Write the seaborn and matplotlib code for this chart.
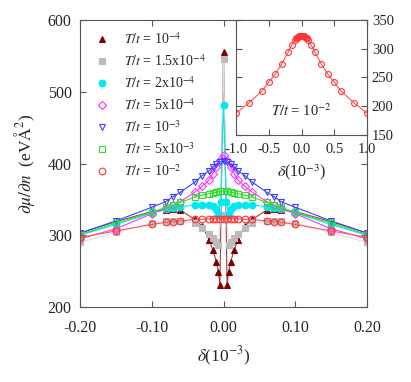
import pandas as pd
import seaborn as sns
import matplotlib.pyplot as plt
from matplotlib.lines import Line2D

# values
x_t1 = [-0.2, -0.15, -0.1, -0.08, -0.07, -0.06, -0.04, -0.03, -0.02, -0.015, -0.01, -0.007, -0.005, 0.0,
        0.005, 0.007, 0.01, 0.015, 0.02, 0.03, 0.04, 0.06, 0.07, 0.08, 0.1, 0.15, 0.2]
y_t1 = [303, 319, 333, 335, 337, 335, 322, 313, 294, 280, 263, 249, 230, 556,
        230, 249, 263, 280, 294, 313, 322, 335, 337, 335, 333, 319, 303]

x_t15 = [-0.2, -0.15, -0.1, -0.08, -0.07, -0.06, -0.04, -0.03, -0.02, -0.015, -0.01, -0.007, -0.004, 0.0,
         0.004, 0.007, 0.01, 0.015, 0.02, 0.03, 0.04, 0.06, 0.07, 0.08, 0.1, 0.15, 0.2]
y_t15 = [290, 304, 317, 320, 320, 320, 317, 310, 302, 296, 290, 287, 328, 545,
         328, 287, 290, 296, 302, 310, 317, 320, 320, 320, 317, 304, 290]

x_t2 = x_t15
y_t2 = [300, 315, 331, 336, 338, 340, 342, 342, 342, 341, 336, 330, 346, 482,
        346, 330, 336, 341, 342, 342, 342, 340, 338, 336, 331, 315, 300]

x_std = [-0.2, -0.15, -0.1, -0.08, -0.07, -0.06, -0.04, -0.03, -0.02, -0.015, -0.01, -0.005, 0.0,
         0.005, 0.01, 0.015, 0.02, 0.03, 0.04, 0.06, 0.07, 0.08, 0.1, 0.15, 0.2]
y_t5 = [295, 309, 330, 338, 342, 347, 360, 368, 377, 386, 395, 405, 412,
        405, 395, 386, 377, 368, 360, 347, 342, 338, 330, 309, 295]
y_t10 = [303, 320, 339, 347, 354, 360, 374, 383, 390, 395, 399, 402, 403,
         402, 399, 395, 390, 383, 374, 360, 354, 347, 339, 320, 303]
y_t50 = [301, 317, 332, 339, 342, 346, 353, 356, 358, 359, 360, 361, 362,
         361, 360, 359, 358, 356, 353, 346, 342, 339, 332, 317, 301]
y_t100 = [297, 306, 315, 318, 319, 320, 322, 322, 323, 323, 323, 323, 323,
          323, 323, 323, 323, 322, 322, 320, 319, 318, 315, 306, 297]

# inset: T/t = 10^-2 over the wider range
x_in = [-1.0, -0.8, -0.6, -0.5, -0.4, -0.3, -0.2, -0.15, -0.1, -0.08, -0.07, -0.06, -0.04, -0.03, -0.02, -0.01, 0.0,
        0.01, 0.02, 0.03, 0.04, 0.06, 0.07, 0.08, 0.1, 0.15, 0.2, 0.3, 0.4, 0.5, 0.6, 0.8, 1.0]
y_in = [188, 206, 227, 242, 256, 274, 295, 306, 315, 318, 319, 320, 322, 322, 323, 323, 323,
        323, 323, 322, 322, 320, 319, 318, 315, 306, 295, 274, 256, 242, 227, 206, 188]

labels = [r'$T/t$ = 10$^{-4}$', r'$T/t$ = 1.5x10$^{-4}$', r'$T/t$ = 2x10$^{-4}$',
          r'$T/t$ = 5x10$^{-4}$', r'$T/t$ = 10$^{-3}$', r'$T/t$ = 5x10$^{-3}$', r'$T/t$ = 10$^{-2}$']

series = [
    (x_t1, y_t1, '#800000', '^', True, '#a04040'),
    (x_t15, y_t15, '#bbbbbb', 's', True, '#dddddd'),
    (x_t2, y_t2, '#00e8f0', 'o', True, '#00e8f0'),
    (x_std, y_t5, '#ff33ff', 'D', False, '#ff33ff'),
    (x_std, y_t10, '#4040ff', 'v', False, '#4040ff'),
    (x_std, y_t50, '#33dd33', 's', False, '#33dd33'),
    (x_std, y_t100, '#ff3333', 'o', False, '#ff5555'),
]

sns.set_style('ticks')
plt.rcParams['font.family'] = ['Liberation Serif', 'DejaVu Serif']
plt.rcParams['mathtext.fontset'] = 'stix'

fig = plt.figure(figsize=(4.11, 3.82), dpi=100)
ax = fig.add_axes([80 / 411, 75 / 382, 287 / 411, 287 / 382])

handles = []
for (xs, ys, col, mk, filled, lcol), lab in zip(series, labels):
    df = pd.DataFrame({'delta': xs, 'dmu': ys})
    ms = 4.8 if mk != 'D' else 4.0
    sns.lineplot(data=df, x='delta', y='dmu', ax=ax, color=lcol, lw=0.8, sort=False,
                 marker=mk, ms=ms, mec=col, mfc=col if filled else 'none', mew=0.8)
    handles.append(Line2D([], [], ls='none', marker=mk, ms=ms, mec=col,
                          mfc=col if filled else 'none', mew=0.8, label=lab))

ax.set_xlim(-0.2, 0.2)
ax.set_ylim(200, 600)
ax.set_xticks([-0.2, -0.1, 0.0, 0.1, 0.2])
ax.set_xticklabels(['-0.20', '-0.10', '0.00', '0.10', '0.20'])
ax.set_yticks([200, 300, 400, 500, 600])
ax.tick_params(direction='in', top=True, right=True, labelsize=11.5, length=4, width=0.8, color='#555555')
ax.tick_params(axis='x', pad=9)
ax.tick_params(axis='y', pad=6)
for s in ax.spines.values():
    s.set_color('#555555')
    s.set_linewidth(0.8)
ax.set_xlabel(r'$\delta$(10$^{-3}$)', fontsize=12.5, labelpad=7)
ax.set_ylabel(r'$\partial\mu/\partial n$  (eV$\mathrm{\AA}^2$)', fontsize=12.5, labelpad=8)
ax.legend(handles=handles, loc='upper left', frameon=False, fontsize=10,
          labelspacing=0.45, handletextpad=0.9, borderaxespad=0.4, handlelength=1.5)

# inset
ins = fig.add_axes([236 / 411, 247 / 382, 131 / 411, 115 / 382])
dfi = pd.DataFrame({'delta': x_in, 'dmu': y_in})
sns.lineplot(data=dfi, x='delta', y='dmu', ax=ins, color='#ff5555', lw=0.8, sort=False,
             marker='o', ms=4.2, mec='#ff3333', mfc='none', mew=0.8)
ins.set_xlim(-1.0, 1.0)
ins.set_ylim(150, 350)
ins.set_xticks([-1.0, -0.5, 0.0, 0.5, 1.0])
ins.set_xticklabels(['-1.0', '-0.5', '0.0', '0.5', '1.0'])
ins.set_yticks([150, 200, 250, 300, 350])
ins.yaxis.tick_right()
ins.tick_params(direction='in', top=True, left=True, right=True, labelsize=10.5, length=4,
                width=0.8, color='#555555', labelleft=False, labelright=True)
ins.tick_params(axis='x', pad=6)
for s in ins.spines.values():
    s.set_color('#555555')
    s.set_linewidth(0.8)
ins.set_xlabel(r'$\delta$(10$^{-3}$)', fontsize=11.5, labelpad=4)
ins.set_ylabel('')
ins.text(0.0, 193, r'$T/t$ = 10$^{-2}$', fontsize=10.5, ha='center', va='center')

fig.savefig('out.png', dpi=100)
